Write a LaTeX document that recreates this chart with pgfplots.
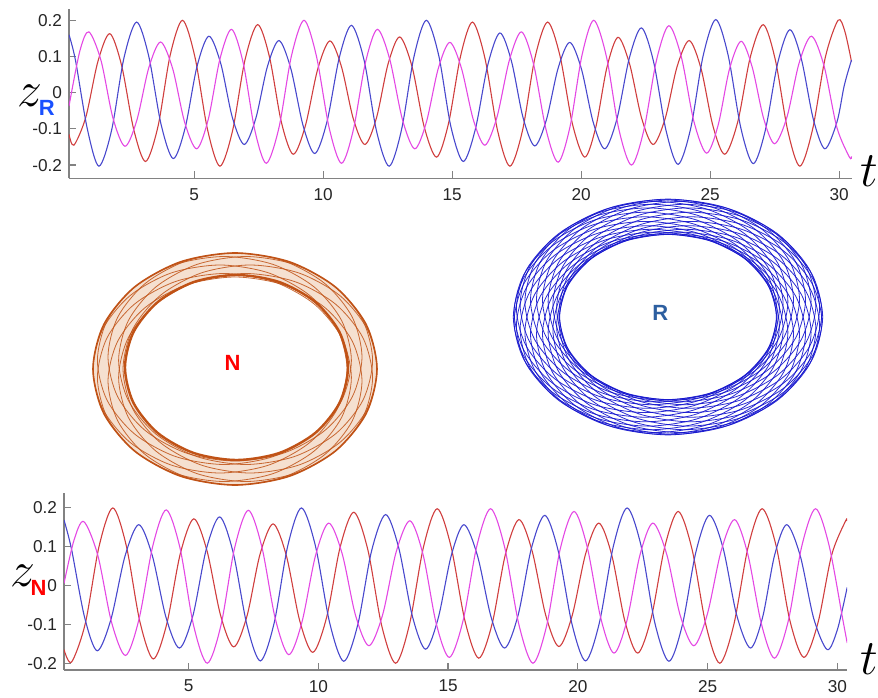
\documentclass[border=0pt]{standalone}
\usepackage{pgfplots}
\pgfplotsset{compat=1.18}
\usepackage{fontspec}
\setmainfont{Liberation Sans}
\definecolor{cred}{RGB}{208,62,62}
\definecolor{cmag}{RGB}{228,72,228}
\definecolor{cblue}{RGB}{72,72,205}
\definecolor{axgray}{RGB}{130,130,130}
\definecolor{nbrown}{RGB}{192,82,22}
\definecolor{nlight}{RGB}{245,224,208}
\definecolor{rblue}{RGB}{20,20,205}
\definecolor{rlab}{RGB}{45,95,160}
\definecolor{zblue}{RGB}{25,80,255}
\pgfplotsset{tsplot/.style={
  scale only axis, anchor=south west,
  axis x line=bottom, axis y line=left,
  axis line style={-, axgray, line width=0.6pt},
  tick align=inside, major tick length=3.5pt,
  tick style={axgray, line width=0.6pt},
  xtick={5,10,15,20,25,30}, xticklabels={5,10,15,20,25,30},
  ytick={-0.2,-0.1,0,0.1,0.2}, yticklabels={-0.2,-0.1,0,0.1,0.2},
  ticklabel style={font=\fontsize{8.6}{9}\selectfont, text=black!85},
  xticklabel style={yshift=-1.5pt},
  /pgf/number format/assume math mode=true,
  every axis plot/.append style={line width=0.55pt, smooth, no marks},
}}
\pgfplotsset{rell/.style={rblue, line width=0.4pt, opacity=0.9, smooth cycle}}
\pgfplotsset{nell/.style={nbrown, line width=0.4pt, opacity=0.85, smooth cycle}}
\begin{document}
\begin{tikzpicture}
\useasboundingbox (0pt,0pt) rectangle (439pt,348.5pt);
% ---------------- middle: phase portraits ----------------
\begin{axis}[at={(0pt,0pt)}, anchor=south west, scale only axis, width=439pt, height=348.5pt,
  xmin=0, xmax=878, ymin=0, ymax=697, y dir=reverse, hide axis, clip=false]
% N ring
\addplot[fill=nlight, draw=none, smooth cycle] coordinates {(377,369)(366.2,413.4)(335.4,451)(289.3,476.2)(235,485)(180.7,476.2)(134.6,451)(103.8,413.4)(93,369)(103.8,324.6)(134.6,287)(180.7,261.8)(235,253)(289.3,261.8)(335.4,287)(366.2,324.6)};
\addplot[fill=white, draw=none, smooth cycle] coordinates {(348,367.5)(339.5,402.9)(315.3,432.9)(279.2,453)(236.5,460)(193.8,453)(157.7,432.9)(133.5,402.9)(125,367.5)(133.5,332.1)(157.7,302.1)(193.8,282)(236.5,275)(279.2,282)(315.3,302.1)(339.5,332.1)};
\addplot[nell] coordinates {(377,369)(367.3,408.8)(339.8,442.5)(298.6,465.1)(250,473)(201.4,465.1)(160.2,442.5)(132.7,408.8)(123,369)(132.7,329.2)(160.2,295.5)(201.4,272.9)(250,265)(298.6,272.9)(339.8,295.5)(367.3,329.2)};
\addplot[nell] coordinates {(372.6,377.5)(362.9,417.3)(335.4,451)(294.2,473.6)(245.6,481.5)(197.0,473.6)(155.8,451)(128.3,417.3)(118.6,377.5)(128.3,337.7)(155.8,304)(197.0,281.4)(245.6,273.5)(294.2,281.4)(335.4,304)(362.9,337.7)};
\addplot[nell] coordinates {(362,381)(352.3,420.8)(324.8,454.5)(283.6,477.1)(235,485)(186.4,477.1)(145.2,454.5)(117.7,420.8)(108,381)(117.7,341.2)(145.2,307.5)(186.4,284.9)(235,277)(283.6,284.9)(324.8,307.5)(352.3,341.2)};
\addplot[nell] coordinates {(351.4,377.5)(341.7,417.3)(314.2,451)(273.0,473.6)(224.4,481.5)(175.8,473.6)(134.6,451)(107.1,417.3)(97.4,377.5)(107.1,337.7)(134.6,304)(175.8,281.4)(224.4,273.5)(273.0,281.4)(314.2,304)(341.7,337.7)};
\addplot[nell] coordinates {(347,369)(337.3,408.8)(309.8,442.5)(268.6,465.1)(220,473)(171.4,465.1)(130.2,442.5)(102.7,408.8)(93,369)(102.7,329.2)(130.2,295.5)(171.4,272.9)(220,265)(268.6,272.9)(309.8,295.5)(337.3,329.2)};
\addplot[nell] coordinates {(351.4,360.5)(341.7,400.3)(314.2,434)(273.0,456.6)(224.4,464.5)(175.8,456.6)(134.6,434)(107.1,400.3)(97.4,360.5)(107.1,320.7)(134.6,287)(175.8,264.4)(224.4,256.5)(273.0,264.4)(314.2,287)(341.7,320.7)};
\addplot[nell] coordinates {(362,357)(352.3,396.8)(324.8,430.5)(283.6,453.1)(235,461)(186.4,453.1)(145.2,430.5)(117.7,396.8)(108,357)(117.7,317.2)(145.2,283.5)(186.4,260.9)(235,253)(283.6,260.9)(324.8,283.5)(352.3,317.2)};
\addplot[nell] coordinates {(372.6,360.5)(362.9,400.3)(335.4,434)(294.2,456.6)(245.6,464.5)(197.0,456.6)(155.8,434)(128.3,400.3)(118.6,360.5)(128.3,320.7)(155.8,287)(197.0,264.4)(245.6,256.5)(294.2,264.4)(335.4,287)(362.9,320.7)};
\addplot[nbrown, line width=0.8pt, smooth cycle] coordinates {(377,369)(366.2,413.4)(335.4,451)(289.3,476.2)(235,485)(180.7,476.2)(134.6,451)(103.8,413.4)(93,369)(103.8,324.6)(134.6,287)(180.7,261.8)(235,253)(289.3,261.8)(335.4,287)(366.2,324.6)};
\addplot[nbrown, line width=1.2pt, smooth cycle] coordinates {(348,367.5)(339.5,402.9)(315.3,432.9)(279.2,453)(236.5,460)(193.8,453)(157.7,432.9)(133.5,402.9)(125,367.5)(133.5,332.1)(157.7,302.1)(193.8,282)(236.5,275)(279.2,282)(315.3,302.1)(339.5,332.1)};
% R ring
\addplot[rell] coordinates {(822.7,317)(812.7,355.3)(784.2,387.8)(741.5,409.6)(691.2,417.2)(640.9,409.6)(598.2,387.8)(569.7,355.3)(559.7,317)(569.7,278.7)(598.2,246.2)(640.9,224.4)(691.2,216.8)(741.5,224.4)(784.2,246.2)(812.7,278.7)};
\addplot[rell] coordinates {(821.9,321.6)(811.9,359.9)(783.4,392.4)(740.7,414.2)(690.4,421.8)(640.1,414.2)(597.4,392.4)(568.9,359.9)(558.9,321.6)(568.9,283.3)(597.4,250.8)(640.1,229.0)(690.4,221.4)(740.7,229.0)(783.4,250.8)(811.9,283.3)};
\addplot[rell] coordinates {(819.6,325.9)(809.6,364.2)(781.1,396.7)(738.4,418.5)(688.1,426.1)(637.8,418.5)(595.1,396.7)(566.6,364.2)(556.6,325.9)(566.6,287.6)(595.1,255.1)(637.8,233.3)(688.1,225.7)(738.4,233.3)(781.1,255.1)(809.6,287.6)};
\addplot[rell] coordinates {(815.9,329.5)(805.9,367.8)(777.4,400.3)(734.7,422.1)(684.4,429.7)(634.1,422.1)(591.4,400.3)(562.9,367.8)(552.9,329.5)(562.9,291.2)(591.4,258.7)(634.1,236.9)(684.4,229.3)(734.7,236.9)(777.4,258.7)(805.9,291.2)};
\addplot[rell] coordinates {(811.1,332.3)(801.1,370.6)(772.6,403.1)(729.9,424.9)(679.6,432.5)(629.3,424.9)(586.6,403.1)(558.1,370.6)(548.1,332.3)(558.1,294.0)(586.6,261.5)(629.3,239.7)(679.6,232.1)(729.9,239.7)(772.6,261.5)(801.1,294.0)};
\addplot[rell] coordinates {(805.5,334.1)(795.5,372.4)(767.0,404.9)(724.3,426.7)(674.0,434.3)(623.7,426.7)(581.0,404.9)(552.5,372.4)(542.5,334.1)(552.5,295.8)(581.0,263.3)(623.7,241.5)(674.0,233.9)(724.3,241.5)(767.0,263.3)(795.5,295.8)};
\addplot[rell] coordinates {(799.5,334.7)(789.5,373.0)(761.0,405.5)(718.3,427.3)(668.0,434.9)(617.7,427.3)(575.0,405.5)(546.5,373.0)(536.5,334.7)(546.5,296.4)(575.0,263.9)(617.7,242.1)(668.0,234.5)(718.3,242.1)(761.0,263.9)(789.5,296.4)};
\addplot[rell] coordinates {(793.5,334.1)(783.5,372.4)(755.0,404.9)(712.3,426.7)(662.0,434.3)(611.7,426.7)(569.0,404.9)(540.5,372.4)(530.5,334.1)(540.5,295.8)(569.0,263.3)(611.7,241.5)(662.0,233.9)(712.3,241.5)(755.0,263.3)(783.5,295.8)};
\addplot[rell] coordinates {(787.9,332.3)(777.9,370.6)(749.4,403.1)(706.7,424.9)(656.4,432.5)(606.1,424.9)(563.4,403.1)(534.9,370.6)(524.9,332.3)(534.9,294.0)(563.4,261.5)(606.1,239.7)(656.4,232.1)(706.7,239.7)(749.4,261.5)(777.9,294.0)};
\addplot[rell] coordinates {(783.1,329.5)(773.1,367.8)(744.6,400.3)(701.9,422.1)(651.6,429.7)(601.3,422.1)(558.6,400.3)(530.1,367.8)(520.1,329.5)(530.1,291.2)(558.6,258.7)(601.3,236.9)(651.6,229.3)(701.9,236.9)(744.6,258.7)(773.1,291.2)};
\addplot[rell] coordinates {(779.4,325.9)(769.4,364.2)(740.9,396.7)(698.2,418.5)(647.9,426.1)(597.6,418.5)(554.9,396.7)(526.4,364.2)(516.4,325.9)(526.4,287.6)(554.9,255.1)(597.6,233.3)(647.9,225.7)(698.2,233.3)(740.9,255.1)(769.4,287.6)};
\addplot[rell] coordinates {(777.1,321.6)(767.1,359.9)(738.6,392.4)(695.9,414.2)(645.6,421.8)(595.3,414.2)(552.6,392.4)(524.1,359.9)(514.1,321.6)(524.1,283.3)(552.6,250.8)(595.3,229.0)(645.6,221.4)(695.9,229.0)(738.6,250.8)(767.1,283.3)};
\addplot[rell] coordinates {(776.3,317)(766.3,355.3)(737.8,387.8)(695.1,409.6)(644.8,417.2)(594.5,409.6)(551.8,387.8)(523.3,355.3)(513.3,317)(523.3,278.7)(551.8,246.2)(594.5,224.4)(644.8,216.8)(695.1,224.4)(737.8,246.2)(766.3,278.7)};
\addplot[rell] coordinates {(777.1,312.4)(767.1,350.7)(738.6,383.2)(695.9,405.0)(645.6,412.6)(595.3,405.0)(552.6,383.2)(524.1,350.7)(514.1,312.4)(524.1,274.1)(552.6,241.6)(595.3,219.8)(645.6,212.2)(695.9,219.8)(738.6,241.6)(767.1,274.1)};
\addplot[rell] coordinates {(779.4,308.1)(769.4,346.4)(740.9,378.9)(698.2,400.7)(647.9,408.3)(597.6,400.7)(554.9,378.9)(526.4,346.4)(516.4,308.1)(526.4,269.8)(554.9,237.3)(597.6,215.5)(647.9,207.9)(698.2,215.5)(740.9,237.3)(769.4,269.8)};
\addplot[rell] coordinates {(783.1,304.5)(773.1,342.8)(744.6,375.3)(701.9,397.1)(651.6,404.7)(601.3,397.1)(558.6,375.3)(530.1,342.8)(520.1,304.5)(530.1,266.2)(558.6,233.7)(601.3,211.9)(651.6,204.3)(701.9,211.9)(744.6,233.7)(773.1,266.2)};
\addplot[rell] coordinates {(787.9,301.7)(777.9,340.0)(749.4,372.5)(706.7,394.3)(656.4,401.9)(606.1,394.3)(563.4,372.5)(534.9,340.0)(524.9,301.7)(534.9,263.4)(563.4,230.9)(606.1,209.1)(656.4,201.5)(706.7,209.1)(749.4,230.9)(777.9,263.4)};
\addplot[rell] coordinates {(793.5,299.9)(783.5,338.2)(755.0,370.7)(712.3,392.5)(662.0,400.1)(611.7,392.5)(569.0,370.7)(540.5,338.2)(530.5,299.9)(540.5,261.6)(569.0,229.1)(611.7,207.3)(662.0,199.7)(712.3,207.3)(755.0,229.1)(783.5,261.6)};
\addplot[rell] coordinates {(799.5,299.3)(789.5,337.6)(761.0,370.1)(718.3,391.9)(668.0,399.5)(617.7,391.9)(575.0,370.1)(546.5,337.6)(536.5,299.3)(546.5,261.0)(575.0,228.5)(617.7,206.7)(668.0,199.1)(718.3,206.7)(761.0,228.5)(789.5,261.0)};
\addplot[rell] coordinates {(805.5,299.9)(795.5,338.2)(767.0,370.7)(724.3,392.5)(674.0,400.1)(623.7,392.5)(581.0,370.7)(552.5,338.2)(542.5,299.9)(552.5,261.6)(581.0,229.1)(623.7,207.3)(674.0,199.7)(724.3,207.3)(767.0,229.1)(795.5,261.6)};
\addplot[rell] coordinates {(811.1,301.7)(801.1,340.0)(772.6,372.5)(729.9,394.3)(679.6,401.9)(629.3,394.3)(586.6,372.5)(558.1,340.0)(548.1,301.7)(558.1,263.4)(586.6,230.9)(629.3,209.1)(679.6,201.5)(729.9,209.1)(772.6,230.9)(801.1,263.4)};
\addplot[rell] coordinates {(815.9,304.5)(805.9,342.8)(777.4,375.3)(734.7,397.1)(684.4,404.7)(634.1,397.1)(591.4,375.3)(562.9,342.8)(552.9,304.5)(562.9,266.2)(591.4,233.7)(634.1,211.9)(684.4,204.3)(734.7,211.9)(777.4,233.7)(805.9,266.2)};
\addplot[rell] coordinates {(819.6,308.1)(809.6,346.4)(781.1,378.9)(738.4,400.7)(688.1,408.3)(637.8,400.7)(595.1,378.9)(566.6,346.4)(556.6,308.1)(566.6,269.8)(595.1,237.3)(637.8,215.5)(688.1,207.9)(738.4,215.5)(781.1,237.3)(809.6,269.8)};
\addplot[rell] coordinates {(821.9,312.4)(811.9,350.7)(783.4,383.2)(740.7,405.0)(690.4,412.6)(640.1,405.0)(597.4,383.2)(568.9,350.7)(558.9,312.4)(568.9,274.1)(597.4,241.6)(640.1,219.8)(690.4,212.2)(740.7,219.8)(783.4,241.6)(811.9,274.1)};
\node[text=red, font=\fontsize{11}{11}\selectfont\bfseries, inner sep=0pt] at (axis cs:232.5,363.3) {N};
\node[text=rlab, font=\fontsize{11}{11}\selectfont\bfseries, inner sep=0pt] at (axis cs:660.3,313) {R};
\end{axis}
% ---------------- top panel ----------------
\begin{axis}[tsplot, at={(34.5pt,259.35pt)}, width=391.5pt, height=84.5pt,
  xmin=0.15, xmax=30.5, ymin=-0.2365, ymax=0.2304]
\addplot[cred] coordinates {(0.15,-0.115)(0.34,-0.145)(0.80,-0.068)(1.27,0.086)(1.73,0.163)(2.19,0.075)(2.66,-0.102)(3.12,-0.19)(3.60,-0.093)(4.07,0.103)(4.55,0.2)(5.03,0.099)(5.52,-0.102)(6.0,-0.203)(6.49,-0.105)(6.97,0.090)(7.46,0.188)(7.92,0.099)(8.38,-0.081)(8.84,-0.17)(9.31,-0.092)(9.79,0.065)(10.26,0.143)(10.71,0.072)(11.17,-0.072)(11.62,-0.143)(12.07,-0.069)(12.52,0.080)(12.97,0.154)(13.45,0.071)(13.92,-0.095)(14.4,-0.178)(14.86,-0.085)(15.33,0.102)(15.79,0.195)(16.27,0.096)(16.76,-0.104)(17.24,-0.203)(17.73,-0.104)(18.21,0.096)(18.7,0.195)(19.18,0.102)(19.66,-0.085)(20.14,-0.178)(20.57,-0.095)(21.0,0.070)(21.43,0.153)(21.88,0.079)(22.34,-0.069)(22.79,-0.143)(23.26,-0.071)(23.72,0.072)(24.19,0.144)(24.65,0.066)(25.11,-0.092)(25.57,-0.17)(26.07,-0.081)(26.56,0.099)(27.06,0.188)(27.53,0.090)(28.01,-0.105)(28.48,-0.203)(28.97,-0.102)(29.47,0.099)(29.96,0.2)(30.22,0.17)(30.48,0.086)};
\addplot[cblue] coordinates {(0.15,0.16)(0.40,0.09)(0.86,-0.10)(1.31,-0.203)(1.80,-0.104)(2.28,0.096)(2.77,0.195)(3.24,0.101)(3.72,-0.088)(4.19,-0.182)(4.65,-0.098)(5.11,0.072)(5.57,0.156)(6.03,0.081)(6.48,-0.068)(6.94,-0.143)(7.39,-0.071)(7.84,0.072)(8.29,0.144)(8.75,0.066)(9.22,-0.090)(9.68,-0.168)(10.15,-0.080)(10.63,0.098)(11.1,0.186)(11.59,0.089)(12.07,-0.106)(12.56,-0.203)(13.04,-0.102)(13.52,0.099)(14.0,0.2)(14.48,0.103)(14.95,-0.093)(15.43,-0.19)(15.90,-0.101)(16.38,0.076)(16.85,0.165)(17.30,0.087)(17.75,-0.069)(18.2,-0.147)(18.65,-0.076)(19.11,0.068)(19.56,0.139)(20.01,0.066)(20.47,-0.082)(20.92,-0.155)(21.39,-0.072)(21.87,0.096)(22.34,0.179)(22.81,0.085)(23.29,-0.104)(23.76,-0.198)(24.25,-0.098)(24.73,0.102)(25.22,0.202)(25.70,0.103)(26.19,-0.097)(26.67,-0.196)(27.14,-0.104)(27.62,0.082)(28.09,0.174)(28.54,0.092)(29.00,-0.073)(29.45,-0.155)(29.92,-0.08)(30.2,0.02)(30.48,0.09)};
\addplot[cmag] coordinates {(0.15,-0.037)(0.57,0.115)(0.92,0.168)(1.39,0.089)(1.85,-0.069)(2.32,-0.148)(2.78,-0.076)(3.24,0.068)(3.7,0.14)(4.17,0.066)(4.63,-0.081)(5.1,-0.155)(5.55,-0.073)(6.0,0.093)(6.45,0.175)(6.90,0.083)(7.35,-0.103)(7.8,-0.195)(8.29,-0.096)(8.77,0.101)(9.26,0.2)(9.74,0.101)(10.23,-0.096)(10.71,-0.195)(11.17,-0.103)(11.64,0.083)(12.1,0.175)(12.58,0.093)(13.07,-0.073)(13.55,-0.155)(14.0,-0.082)(14.46,0.066)(14.91,0.139)(15.36,0.068)(15.82,-0.074)(16.27,-0.145)(16.74,-0.067)(17.22,0.090)(17.69,0.168)(18.16,0.078)(18.64,-0.102)(19.11,-0.192)(19.57,-0.094)(20.03,0.102)(20.49,0.2)(20.98,0.1)(21.46,-0.1)(21.95,-0.2)(22.43,-0.104)(22.92,0.089)(23.4,0.185)(23.89,0.097)(24.37,-0.079)(24.86,-0.167)(25.31,-0.090)(25.75,0.065)(26.2,0.142)(26.63,0.071)(27.07,-0.070)(27.5,-0.141)(27.98,-0.067)(28.45,0.082)(28.93,0.156)(29.42,0.073)(29.91,-0.095)(30.4,-0.178)(30.48,-0.176)};
\end{axis}
% ---------------- bottom panel ----------------
\begin{axis}[tsplot, at={(32pt,13.5pt)}, width=391.6pt, height=88.5pt,
  xmin=0.2, xmax=30.38, ymin=-0.2174, ymax=0.2374]
\addplot[cred] coordinates {(0.2,-0.165)(0.49,-0.197)(1.02,-0.098)(1.55,0.100)(2.08,0.199)(2.60,0.102)(3.12,-0.092)(3.64,-0.189)(4.16,-0.099)(4.68,0.081)(5.2,0.171)(5.71,0.089)(6.23,-0.076)(6.74,-0.158)(7.25,-0.079)(7.75,0.079)(8.26,0.158)(8.77,0.076)(9.28,-0.090)(9.79,-0.172)(10.32,-0.082)(10.84,0.098)(11.37,0.188)(11.91,0.091)(12.44,-0.103)(12.98,-0.2)(13.51,-0.101)(14.05,0.098)(14.58,0.197)(15.11,0.101)(15.65,-0.091)(16.18,-0.187)(16.70,-0.098)(17.21,0.080)(17.73,0.169)(18.24,0.088)(18.76,-0.076)(19.27,-0.157)(19.78,-0.078)(20.30,0.081)(20.81,0.16)(21.31,0.077)(21.81,-0.091)(22.31,-0.174)(22.83,-0.083)(23.35,0.099)(23.87,0.19)(24.40,0.093)(24.94,-0.103)(25.47,-0.2)(26.01,-0.101)(26.56,0.098)(27.1,0.197)(27.64,0.102)(28.17,-0.090)(28.71,-0.185)(29.25,-0.097)(29.78,0.078)(30.32,0.166)(30.38,0.165)};
\addplot[cblue] coordinates {(0.2,0.168)(0.49,0.093)(0.99,-0.081)(1.48,-0.168)(2.01,-0.087)(2.55,0.075)(3.08,0.156)(3.60,0.077)(4.13,-0.082)(4.65,-0.161)(5.17,-0.077)(5.68,0.092)(6.2,0.176)(6.72,0.084)(7.25,-0.102)(7.77,-0.194)(8.30,-0.096)(8.82,0.101)(9.35,0.199)(9.89,0.101)(10.44,-0.097)(10.98,-0.195)(11.52,-0.101)(12.05,0.088)(12.59,0.182)(13.10,0.096)(13.62,-0.078)(14.13,-0.164)(14.62,-0.084)(15.12,0.076)(15.61,0.156)(16.13,0.077)(16.66,-0.082)(17.18,-0.161)(17.70,-0.076)(18.21,0.095)(18.73,0.18)(19.25,0.087)(19.78,-0.101)(20.3,-0.194)(20.83,-0.096)(21.37,0.101)(21.9,0.199)(22.44,0.101)(22.97,-0.097)(23.51,-0.195)(24.03,-0.101)(24.55,0.086)(25.07,0.18)(25.60,0.095)(26.12,-0.076)(26.65,-0.161)(27.12,-0.082)(27.58,0.077)(28.05,0.156)(28.57,0.076)(29.09,-0.085)(29.61,-0.165)(30.0,-0.114)(30.38,-0.005)};
\addplot[cmag] coordinates {(0.2,0.005)(0.58,0.115)(0.96,0.164)(1.50,0.078)(2.03,-0.094)(2.57,-0.18)(3.09,-0.087)(3.62,0.101)(4.14,0.194)(4.67,0.096)(5.19,-0.102)(5.72,-0.2)(6.25,-0.102)(6.77,0.095)(7.3,0.193)(7.82,0.100)(8.34,-0.085)(8.86,-0.178)(9.37,-0.094)(9.89,0.076)(10.4,0.16)(10.92,0.081)(11.43,-0.076)(11.95,-0.155)(12.48,-0.075)(13.00,0.086)(13.53,0.166)(14.04,0.078)(14.54,-0.097)(15.05,-0.185)(15.58,-0.090)(16.11,0.102)(16.64,0.197)(17.18,0.098)(17.73,-0.101)(18.27,-0.2)(18.80,-0.103)(19.32,0.093)(19.85,0.19)(20.36,0.099)(20.88,-0.083)(21.39,-0.174)(21.89,-0.091)(22.39,0.077)(22.89,0.16)(23.42,0.081)(23.94,-0.076)(24.47,-0.155)(24.99,-0.074)(25.52,0.088)(26.04,0.169)(26.55,0.080)(27.07,-0.098)(27.58,-0.187)(28.11,-0.091)(28.63,0.101)(29.16,0.197)(29.68,0.103)(30.2,-0.084)(30.38,-0.148)};
\end{axis}
% ---------------- axis labels ----------------
\node[inner sep=0pt] at (15pt,300.75pt) {\fontsize{23}{23}\selectfont$z$};
\node[inner sep=0pt, text=zblue] at (23.4pt,294.5pt) {\fontsize{11}{11}\selectfont\bfseries R};
\node[inner sep=0pt] at (11.4pt,60.5pt) {\fontsize{23}{23}\selectfont$z$};
\node[inner sep=0pt, text=red] at (19.3pt,54.75pt) {\fontsize{11}{11}\selectfont\bfseries N};
\node[inner sep=0pt] at (434.5pt,263pt) {\fontsize{23}{23}\selectfont$t$};
\node[inner sep=0pt] at (434.5pt,19pt) {\fontsize{23}{23}\selectfont$t$};
\end{tikzpicture}
\end{document}
